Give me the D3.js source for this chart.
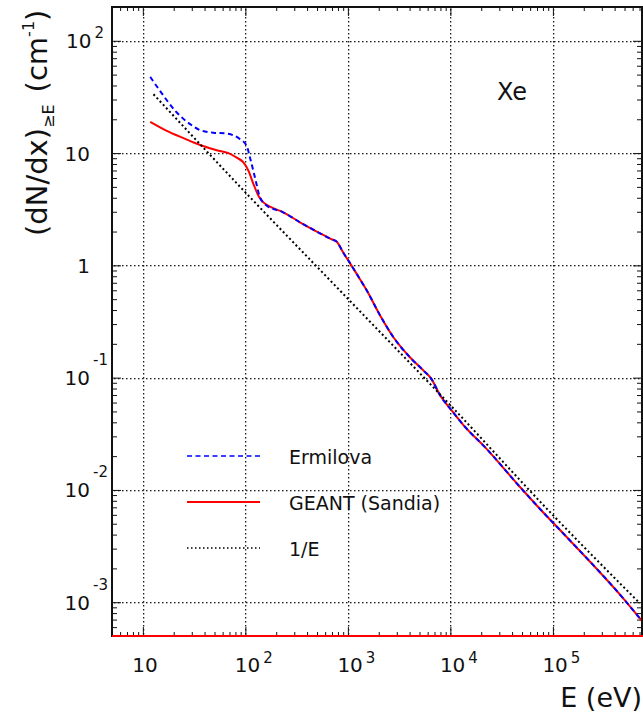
<!DOCTYPE html>
<html>
<head>
<meta charset="utf-8">
<script src="https://cdn.jsdelivr.net/npm/d3@7"></script>
<style>
  html, body { margin: 0; padding: 0; background: #fff; }
  svg { display: block; }
  text { font-family: "DejaVu Sans", Verdana, sans-serif; fill: #111; }
</style>
</head>
<body>
<svg id="chart" width="643" height="718"></svg>
<script>
// Cumulative number of delta electrons above energy E, per cm, in xenon.
const energyErmilova = [11.8, 14.7, 20.7, 28.9, 36.2, 48.7, 65.9, 88.7, 103, 111, 124, 139, 162,
  234, 341, 535, 680, 780, 900, 1000, 1219, 1525, 2056, 2773, 4027, 5500, 6500, 7907, 10280,
  13335, 22540, 47530, 74500, 135500, 483000, 703000, 740000];
const dndxErmilova = [47.7, 35.8, 23.8, 18.1, 16.0, 15.2, 14.9, 13.3, 11.6, 9.1, 6.07, 4.03, 3.40,
  2.97, 2.42, 1.93, 1.72, 1.62, 1.30, 1.12, 0.84, 0.60, 0.36, 0.230, 0.152, 0.115, 0.098, 0.070, 0.051,
  0.038, 0.0232, 0.01067, 0.0068, 0.00383, 0.001087, 0.00072, 0.00068];

const energyGeant = [11.8, 17.1, 24.9, 36.2, 52.6, 68.3, 82.4, 95.7, 107, 120, 134, 150, 174,
  234, 341, 535, 680, 780, 900, 1000, 1219, 1525, 2056, 2773, 4027, 5500, 6500, 7907, 10280,
  13335, 22540, 47530, 74500, 135500, 483000, 703000, 740000];
const dndxGeant = [19.0, 15.8, 13.6, 11.8, 10.6, 10.0, 9.1, 8.26, 6.97, 5.30, 4.17, 3.64, 3.33,
  2.97, 2.42, 1.93, 1.72, 1.62, 1.30, 1.12, 0.84, 0.60, 0.36, 0.230, 0.152, 0.115, 0.098, 0.070, 0.051,
  0.038, 0.0232, 0.01067, 0.0068, 0.00383, 0.001087, 0.00072, 0.00068];

const energyInverse = [12.7, 100, 1000, 10000, 100000, 703000];
const dndxInverse = [33.4, 4.47, 0.504, 0.0568, 0.00597, 0.00098];

const legendLabels = ["Ermilova", "GEANT (Sandia)", "1/E"];
const materialLabel = "Xe";

const xTickValues = [10, 1e2, 1e3, 1e4, 1e5];
const xTickBase = ["10", "10", "10", "10", "10"];
const xTickSup = ["", "2", "3", "4", "5"];
const yTickValues = [1e-3, 1e-2, 1e-1, 1, 10, 100];
const yTickBase = ["10", "10", "10", "1", "10", "10"];
const yTickSup = ["-3", "-2", "-1", "", "", "2"];

const xDomain = [5, 7.4e5];
const yDomain = [5e-4, 200];

const svg = d3.select("#chart");
const frame = { left: 112, top: 7, right: 642, bottom: 636 };

const x = d3.scaleLog().domain(xDomain).range([frame.left, frame.right]);
const y = d3.scaleLog().domain(yDomain).range([frame.bottom, frame.top]);

// minor ticks: 2..9 times every decade inside the domain
function minorTicks(domain) {
  const out = [];
  for (let e = Math.floor(Math.log10(domain[0])); e <= Math.ceil(Math.log10(domain[1])); e++) {
    for (let m = 2; m <= 9; m++) {
      const v = m * Math.pow(10, e);
      if (v >= domain[0] && v <= domain[1]) out.push(v);
    }
  }
  return out;
}
const xMinor = minorTicks(xDomain);
const yMinor = minorTicks(yDomain);

svg.append("defs").append("clipPath").attr("id", "plotClip")
  .append("rect")
  .attr("x", frame.left).attr("y", frame.top)
  .attr("width", frame.right - frame.left).attr("height", frame.bottom - frame.top);

// dotted grid at the decades: a row of small squares along every decade line
const gridLayer = svg.append("g").attr("fill", "#1a1a1a");
xTickValues.forEach(v => {
  const px = Math.round(x(v));
  gridLayer.selectAll(null).data(d3.range(frame.top + 2, frame.bottom, 4)).join("rect")
    .attr("x", px).attr("y", d => d).attr("width", 1.3).attr("height", 1.5);
});
yTickValues.forEach(v => {
  const py = Math.round(y(v));
  gridLayer.selectAll(null).data(d3.range(frame.left + 2, frame.right, 4)).join("rect")
    .attr("x", d => d).attr("y", py).attr("width", 1.5).attr("height", 1.3);
});

// inward-pointing ticks on all four sides
function tickAxis(axisFn, scale, values, size, transform) {
  const g = svg.append("g").attr("transform", transform)
    .call(axisFn(scale).tickValues(values).tickSize(size).tickFormat(""));
  g.select(".domain").remove();
  g.selectAll(".tick line").attr("stroke", "#111").attr("stroke-width", 1);
  return g;
}
tickAxis(d3.axisBottom, x, xMinor, -4, `translate(0,${frame.bottom})`);
tickAxis(d3.axisBottom, x, xTickValues, -9, `translate(0,${frame.bottom})`);
tickAxis(d3.axisTop, x, xMinor, -4, `translate(0,${frame.top})`);
tickAxis(d3.axisTop, x, xTickValues, -9, `translate(0,${frame.top})`);
tickAxis(d3.axisLeft, y, yMinor, -5, `translate(${frame.left},0)`);
tickAxis(d3.axisLeft, y, yTickValues, -9, `translate(${frame.left},0)`);
tickAxis(d3.axisRight, y, yMinor, -5, `translate(${frame.right},0)`);
tickAxis(d3.axisRight, y, yTickValues, -9, `translate(${frame.right},0)`);

// curves
const line = d3.line().x(d => x(d[0])).y(d => y(d[1])).curve(d3.curveMonotoneX);
const plot = svg.append("g").attr("clip-path", "url(#plotClip)").attr("fill", "none");

plot.append("path")
  .attr("d", line(d3.zip(energyGeant, dndxGeant)))
  .attr("stroke", "#ff0000").attr("stroke-width", 2);
plot.append("path")
  .attr("d", line(d3.zip(energyErmilova, dndxErmilova)))
  .attr("stroke", "#0000ff").attr("stroke-width", 2).attr("stroke-dasharray", "5,3.5");
plot.append("path")
  .attr("d", line(d3.zip(energyInverse, dndxInverse)))
  .attr("stroke", "#000").attr("stroke-width", 2).attr("stroke-dasharray", "2,2.6");

// frame
svg.append("rect")
  .attr("x", frame.left).attr("y", frame.top)
  .attr("width", frame.right - frame.left).attr("height", frame.bottom - frame.top)
  .attr("fill", "none").attr("stroke", "#111").attr("stroke-width", 2);

// red baseline of the GEANT histogram along the lower edge
svg.append("line")
  .attr("x1", x(xDomain[0])).attr("x2", x(xDomain[1]) + 2)
  .attr("y1", y(yDomain[0])).attr("y2", y(yDomain[0]))
  .attr("stroke", "#ff0000").attr("stroke-width", 2.2);

// x tick labels
xTickValues.forEach((v, i) => {
  const t = svg.append("text")
    .attr("x", x(v) - 12.5 + 2).attr("y", 672).attr("font-size", 20);
  t.append("tspan").text(xTickBase[i]);
  if (xTickSup[i]) {
    t.append("tspan").attr("font-size", 15).attr("dx", 3).attr("dy", -9).text(xTickSup[i]);
  }
});

// y tick labels
yTickValues.forEach((v, i) => {
  const yc = y(v);
  if (!yTickSup[i]) {
    svg.append("text").attr("x", 90).attr("y", yc + 7.5)
      .attr("font-size", 20).attr("text-anchor", "end").text(yTickBase[i]);
  } else {
    const neg = yTickSup[i].startsWith("-");
    const t = svg.append("text").attr("x", neg ? 108 : 104).attr("y", yc + 7.5)
      .attr("font-size", 20).attr("text-anchor", "end");
    t.append("tspan").text(yTickBase[i]);
    t.append("tspan").attr("font-size", 15).attr("dx", 3).attr("dy", neg ? -20 : -10).text(yTickSup[i]);
  }
});

// axis titles
svg.append("text").attr("x", 642).attr("y", 707).attr("font-size", 27)
  .attr("text-anchor", "end").text("E (eV)");

const yTitle = svg.append("text")
  .attr("transform", "translate(47,236) rotate(-90)")
  .attr("font-size", 29);
yTitle.append("tspan").text("(dN/dx)");
yTitle.append("tspan").attr("font-size", 16).attr("dy", 7).text("≥E");
yTitle.append("tspan").attr("dy", -7).attr("dx", 12).text("(cm");
yTitle.append("tspan").attr("font-size", 16).attr("dy", -13).text("-1");
yTitle.append("tspan").attr("dy", 13).text(")");

// material label
svg.append("text").attr("x", 497).attr("y", 100).attr("font-size", 24).text(materialLabel);

// legend
const legendY = [456, 502, 548];
const legendStyle = [
  { stroke: "#0000ff", dash: "5,3.5", width: 1.5 },
  { stroke: "#ff0000", dash: null, width: 1.8 },
  { stroke: "#000", dash: "1.5,2.5", width: 1.5 }
];
const legend = svg.append("g");
legendLabels.forEach((lab, i) => {
  legend.append("line")
    .attr("x1", 187).attr("x2", 260).attr("y1", legendY[i]).attr("y2", legendY[i])
    .attr("stroke", legendStyle[i].stroke).attr("stroke-width", legendStyle[i].width)
    .attr("stroke-dasharray", legendStyle[i].dash);
  legend.append("text").attr("x", 289).attr("y", legendY[i] + 7.5)
    .attr("font-size", 19).text(lab);
});
</script>
</body>
</html>
